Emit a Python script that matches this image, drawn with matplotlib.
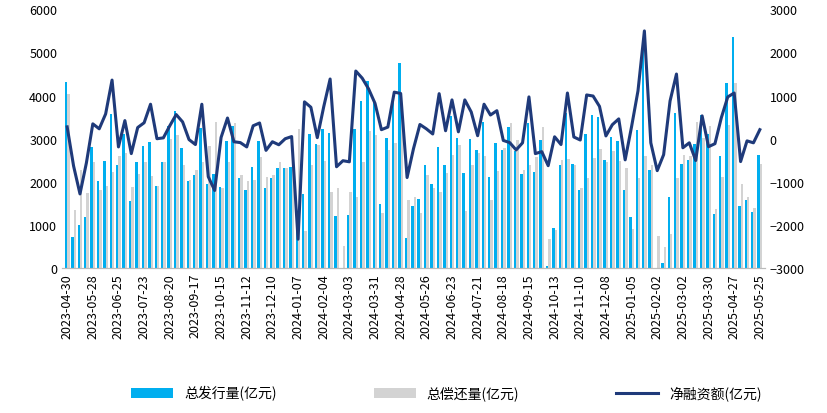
import matplotlib
matplotlib.use("Agg")
import matplotlib.pyplot as plt
import numpy as np
import pandas as pd

plt.rcParams["font.family"] = ["Noto Sans CJK SC", "DejaVu Sans"]

dates = pd.date_range("2023-04-30", periods=109, freq="7D").strftime("%Y-%m-%d").tolist()
issue = [4315,715,990,1180,2815,2030,2490,3580,2400,3100,1545,2450,2840,2930,1915,2470,3300,3650,2790,2030,
         2150,3250,1960,2190,1890,2950,3300,2080,1820,2350,2950,1850,2100,2330,2310,2350,900,1710,3115,2885,
         3230,3140,1200,0,1220,3230,3875,4340,3900,1480,3020,3990,4750,690,1430,1600,2400,1960,2800,2400,
         3530,3020,2215,3000,2750,3390,2120,2910,2750,3280,2720,2190,3370,2240,2980,45,920,2380,3600,2420,
         1820,3115,3550,3510,2515,3045,2950,1820,1180,3210,5100,2285,0,115,1660,3600,2420,2515,2885,3550,
         3115,1245,2610,4290,5350,1430,1590,1290,2630]
repay = [4040,1346,2270,1740,2470,1800,1915,2220,2590,2680,1890,2190,2470,2130,1915,2450,3000,3090,2400,2050,
         2285,2450,2840,3390,1860,2470,3370,2170,2010,2050,2585,2120,2170,2470,2310,2300,3230,855,2385,2860,
         2490,1755,1850,510,1755,1660,2470,3185,3080,1270,2750,2910,3700,1590,1660,1270,2170,1850,1755,2215,
         2630,2860,1315,2380,2680,2590,1570,2260,2790,3370,2980,2285,2400,2585,3280,670,875,2515,2540,2380,
         1850,2100,2560,2760,2450,2720,2490,2310,900,2100,2600,2380,740,485,785,2100,2630,2610,3390,3020,
         3300,1360,2120,3320,4290,1960,1640,1385,2420]
net = [275,-631,-1280,-560,345,230,575,1360,-190,420,-345,260,370,800,0,20,300,560,390,-20,
       -135,800,-880,-1200,30,480,-70,-90,-190,300,365,-270,-70,-140,0,50,-2330,855,730,25,
       740,1385,-650,-510,-535,1570,1405,1155,820,210,270,1080,1050,-900,-230,330,230,110,1045,185,
       900,160,900,620,70,800,550,650,-40,-90,-260,-95,970,-345,-300,-625,45,-135,1060,40,
       -30,1015,990,750,65,325,460,-490,280,1110,2500,-95,-740,-370,875,1500,-210,-95,-505,530,
       -185,-115,490,970,1060,-530,-50,-95,210]

fig = plt.figure(figsize=(8.27, 4.14), dpi=100)
ax = fig.add_axes([0.075, 0.35, 0.85, 0.625])
x = np.arange(len(dates))
w = 0.38
ax.bar(x - w/2, issue, w, color="#00AEEF", label="总发行量(亿元)")
ax.bar(x + w/2, repay, w, color="#D3D3D3", label="总偿还量(亿元)")
ax.set_ylim(0, 6000)
ax.set_yticks(range(0, 6001, 1000))
ax.set_xlim(-0.8, len(x) - 0.2)
ax.set_xticks(x[::4])
ax.set_xticklabels(dates[::4], rotation=90, fontsize=9)
ax.tick_params(axis="y", labelsize=9, length=0)
ax.tick_params(axis="x", length=0)
ax2 = ax.twinx()
ax2.plot(x, net, color="#1F3A7A", lw=2.2, label="净融资额(亿元)")
ax2.set_ylim(-3000, 3000)
ax2.set_yticks(range(-3000, 3001, 1000))
ax2.tick_params(axis="y", labelsize=9, length=0)
for a in (ax, ax2):
    for s in ("top", "right", "left"):
        a.spines[s].set_visible(False)
    a.spines["bottom"].set_color("#BBBBBB")
h1, l1 = ax.get_legend_handles_labels()
h2, l2 = ax2.get_legend_handles_labels()
fig.legend(h1 + h2, l1 + l2, loc="lower center", ncol=3, frameon=False, fontsize=10,
           bbox_to_anchor=(0.54, 0.0), columnspacing=7, handlelength=3)
fig.savefig("out.png", dpi=100)
